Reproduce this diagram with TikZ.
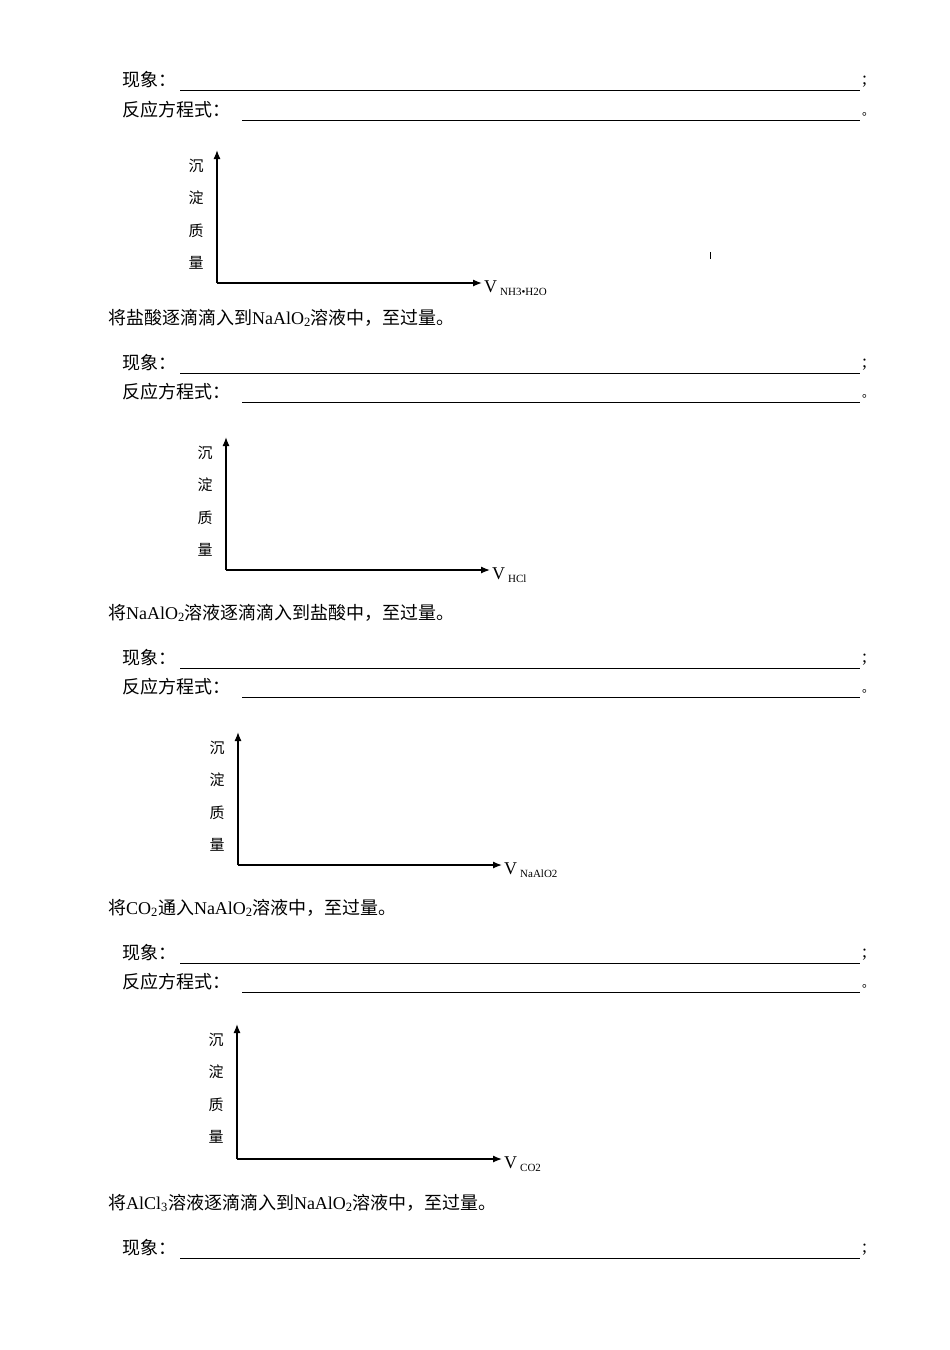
\documentclass[tikz,border=0pt]{standalone}
\usepackage{fontspec}
\usetikzlibrary{arrows.meta}
\setmainfont{Liberation Serif}
\newfontfamily\cjk{Noto Sans CJK SC}
\begin{document}
\begin{tikzpicture}[x=1pt,y=-1pt,
  txt/.style={anchor=west,inner sep=0pt,font=\fontsize{18}{18}\selectfont},
  lab/.style={inner sep=0pt,font=\cjk\fontsize{15}{15}\selectfont},
  ax/.style={line width=1.3pt,-{Latex[length=9pt,width=7pt]}},
  ul/.style={line width=0.8pt}]
\useasboundingbox (0,0) rectangle (950,1350);
\newcommand\xianxiang[2]{%
  \node[txt] (xx#1) at (122,#2) {\cjk 现象：};
  \coordinate (xa#1) at (180,#2+10); \coordinate (xb#1) at (860,#2+10);
  \draw[ul] (xa#1) -- (xb#1);
  \node[txt] (xs#1) at (862,#2+2) {;};}
\newcommand\fangcheng[2]{%
  \node[txt] (fc#1) at (122,#2) {\cjk 反应方程式：};
  \coordinate (fa#1) at (242,#2+10); \coordinate (fb#1) at (860,#2+10);
  \draw[ul] (fa#1) -- (fb#1);
  \node[txt] (fs#1) at (862,#2+4) {\cjk\fontsize{12}{12}\selectfont 。};}
\newcommand\mygraph[6]{%
  \coordinate (o#1) at (#2,#4); \coordinate (t#1) at (#2,#3); \coordinate (r#1) at (#5,#4);
  \draw[ax] (o#1) -- (t#1);
  \draw[ax] (o#1) -- (r#1);
  \node[lab] (l1#1) at (#2-21,#3+16) {沉};
  \node[lab] (l2#1) at (#2-21,#3+48) {淀};
  \node[lab] (l3#1) at (#2-21,#3+81) {质};
  \node[lab] (l4#1) at (#2-21,#3+113) {量};
  \node[txt,anchor=west] (v#1) at (#5+2,#4+5) {V\,{\fontsize{11}{11}\selectfont\raisebox{-3pt}{#6}}};}
\xianxiang{a}{80}
\fangcheng{a}{110}
\mygraph{a}{217}{150}{283}{482}{NH3•H2O}
\draw[line width=0.8pt] (710,252) coordinate (tka) -- (710,259) coordinate (tkb);
\node[txt] (q4) at (80,318) {④．\cjk 将盐酸逐滴滴入到\rmfamily NaAlO\textsubscript{2}\cjk 溶液中，至过量。};
\xianxiang{b}{363}
\fangcheng{b}{392}
\mygraph{b}{226}{437}{570}{490}{HCl}
\node[txt] (q5) at (80,613) {⑤．\cjk 将\rmfamily NaAlO\textsubscript{2}\cjk 溶液逐滴滴入到盐酸中，至过量。};
\xianxiang{c}{658}
\fangcheng{c}{687}
\mygraph{c}{238}{732}{865}{502}{NaAlO2}
\node[txt] (q6) at (80,908) {⑥．\cjk 将\rmfamily CO\textsubscript{2}\cjk 通入\rmfamily NaAlO\textsubscript{2}\cjk 溶液中，至过量。};
\xianxiang{d}{953}
\fangcheng{d}{982}
\mygraph{d}{237}{1024}{1159}{502}{CO2}
\node[txt] (q7) at (80,1203) {⑦．\cjk 将\rmfamily AlCl\textsubscript{3}\cjk 溶液逐滴滴入到\rmfamily NaAlO\textsubscript{2}\cjk 溶液中，至过量。};
\xianxiang{e}{1248}
\end{tikzpicture}
\end{document}
